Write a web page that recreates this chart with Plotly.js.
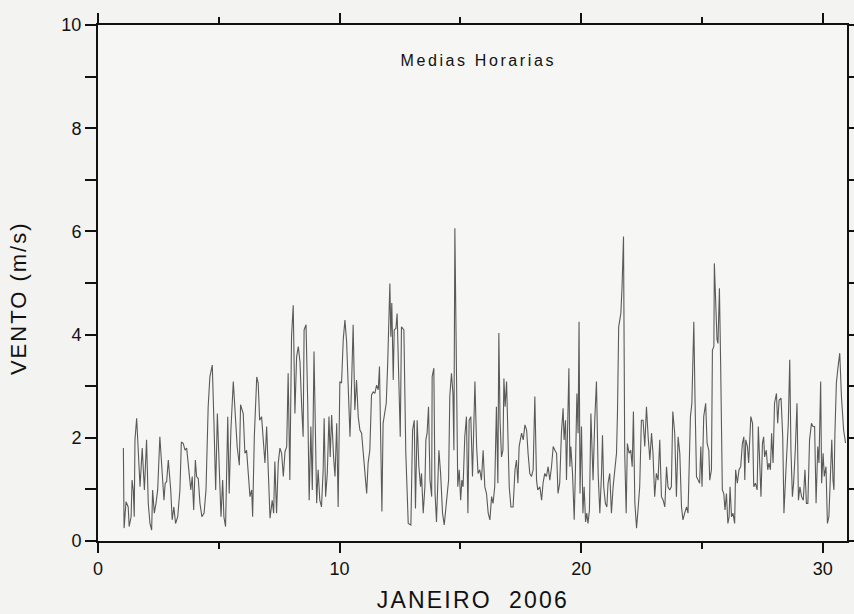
<!DOCTYPE html>
<html>
<head>
<meta charset="utf-8">
<script src="https://cdn.plot.ly/plotly-3.0.1.min.js"></script>
<style>
html,body{margin:0;padding:0;background:#f3f3f1;}
#chart{width:854px;height:614px;}
</style>
</head>
<body>
<div id="chart"></div>
<script>
// Dia de janeiro 2006 (fracao do dia)
var dias = [
1.05,1.08,1.16,1.25,1.29,1.37,1.41,1.46,1.50,1.53,1.60,1.67,1.74,1.83,1.92,2.01,2.08,2.15,2.22,2.26,
2.33,2.40,2.47,2.56,2.66,2.73,2.78,2.84,2.91,3.01,3.07,3.14,3.21,3.30,3.39,3.45,3.53,3.60,3.67,3.75,
3.84,3.90,3.96,4.03,4.08,4.15,4.22,4.30,4.39,4.47,4.56,4.63,4.73,4.80,4.87,4.94,5.02,5.09,5.16,5.21,
5.28,5.37,5.43,5.50,5.60,5.67,5.76,5.85,5.90,6.01,6.08,6.15,6.22,6.29,6.36,6.40,6.47,6.57,6.63,6.69,
6.77,6.84,6.91,6.98,7.05,7.12,7.21,7.27,7.32,7.39,7.46,7.53,7.60,7.67,7.74,7.81,7.87,7.94,8.01,8.08,
8.15,8.22,8.29,8.36,8.43,8.49,8.53,8.61,8.68,8.74,8.81,8.87,8.94,9.01,9.05,9.11,9.18,9.25,9.32,9.36,
9.42,9.49,9.56,9.61,9.67,9.75,9.81,9.88,9.94,10.01,10.08,10.15,10.22,10.29,10.36,10.43,10.50,10.56,10.63,10.70,
10.77,10.84,10.91,10.98,11.05,11.12,11.18,11.25,11.32,11.39,11.46,11.53,11.60,11.65,11.71,11.75,11.80,11.87,11.93,11.99,
12.03,12.08,12.12,12.16,12.22,12.26,12.33,12.38,12.45,12.51,12.56,12.66,12.74,12.84,12.95,13.02,13.09,13.14,13.21,13.28,
13.35,13.39,13.46,13.53,13.57,13.62,13.68,13.74,13.81,13.83,13.90,13.95,14.01,14.11,14.18,14.26,14.33,14.43,14.51,14.56,
14.63,14.69,14.73,14.77,14.84,14.89,14.95,15.01,15.06,15.11,15.18,15.25,15.31,15.36,15.43,15.50,15.56,15.60,15.67,15.73,
15.80,15.87,15.94,16.01,16.08,16.15,16.22,16.29,16.35,16.42,16.49,16.55,16.59,16.64,16.70,16.76,16.80,16.85,16.91,16.96,
17.02,17.09,17.18,17.26,17.32,17.38,17.43,17.53,17.60,17.67,17.74,17.80,17.87,17.94,18.01,18.08,18.15,18.20,18.29,18.36,
18.42,18.49,18.56,18.63,18.70,18.77,18.84,18.91,18.98,19.04,19.11,19.18,19.25,19.29,19.35,19.39,19.43,19.49,19.53,19.57,
19.64,19.71,19.76,19.82,19.87,19.91,19.95,20.01,20.07,20.12,20.18,20.23,20.28,20.34,20.40,20.44,20.49,20.56,20.63,20.70,
20.77,20.84,20.88,20.93,21.00,21.06,21.11,21.18,21.25,21.32,21.39,21.46,21.50,21.55,21.64,21.69,21.75,21.80,21.86,21.91,
21.98,22.05,22.11,22.16,22.22,22.29,22.35,22.42,22.49,22.56,22.63,22.70,22.77,22.84,22.91,22.97,23.04,23.11,23.18,23.25,
23.32,23.39,23.46,23.53,23.59,23.66,23.73,23.79,23.87,23.94,24.01,24.08,24.15,24.21,24.28,24.36,24.42,24.47,24.52,24.58,
24.66,24.71,24.77,24.84,24.90,24.95,25.00,25.07,25.15,25.21,25.28,25.32,25.39,25.43,25.49,25.51,25.57,25.62,25.66,25.72,
25.77,25.84,25.90,25.95,26.01,26.07,26.12,26.16,26.22,26.28,26.35,26.39,26.46,26.53,26.60,26.67,26.73,26.77,26.81,26.88,
26.93,27.02,27.09,27.14,27.21,27.28,27.33,27.39,27.44,27.50,27.55,27.59,27.66,27.72,27.77,27.83,27.88,27.94,28.00,28.08,
28.13,28.19,28.27,28.34,28.39,28.46,28.52,28.57,28.63,28.68,28.74,28.79,28.86,28.93,28.99,29.05,29.12,29.19,29.26,29.32,
29.38,29.45,29.53,29.59,29.66,29.72,29.79,29.84,29.91,29.95,30.01,30.06,30.13,30.19,30.25,30.31,30.37,30.42,30.46,30.50,
30.56,30.63,30.70,30.77,30.86,30.94
];
// Velocidade do vento, media horaria (m/s)
var vento = [
1.80,0.25,0.76,0.66,0.28,0.47,1.18,0.99,0.47,1.96,2.38,1.76,1.05,1.80,0.99,1.96,0.73,0.34,0.21,0.99,
0.54,0.73,0.99,2.02,1.38,0.79,1.12,1.15,1.57,0.99,0.41,0.66,0.34,0.47,0.99,1.92,1.89,1.76,1.80,1.38,
0.99,1.25,0.60,1.57,1.25,1.21,0.73,0.47,0.54,0.99,2.60,3.18,3.41,2.28,0.99,2.47,1.25,0.47,1.18,0.47,
0.28,2.41,0.92,2.15,3.09,2.41,1.83,1.47,2.64,2.47,1.70,1.76,1.25,0.86,0.99,0.47,2.02,3.18,3.06,2.34,
2.41,1.96,1.51,2.22,1.25,0.44,0.79,0.54,1.54,0.54,1.51,1.80,1.70,1.25,1.73,1.83,3.25,1.18,3.96,4.57,
2.47,3.57,3.77,3.47,2.60,2.02,4.09,4.19,2.67,0.79,2.22,0.99,3.67,2.09,0.73,1.38,0.79,0.66,1.38,2.38,
0.86,1.31,2.41,1.63,2.44,1.63,1.25,2.28,0.66,3.09,3.06,3.90,4.28,3.86,3.06,2.02,3.12,4.19,2.54,3.12,
2.41,2.15,2.09,1.63,1.31,0.92,1.51,1.76,2.83,2.89,2.86,3.02,2.93,3.38,1.38,0.57,2.28,2.54,2.67,3.44,
4.48,4.99,3.96,4.61,3.12,4.09,4.12,4.41,3.12,2.02,4.15,4.09,1.70,0.34,0.31,2.15,2.34,0.63,2.34,1.44,
1.05,1.31,0.54,1.05,1.96,2.09,2.60,1.18,0.86,3.18,3.35,0.92,0.37,1.76,1.31,0.54,0.31,0.86,1.18,2.80,
3.25,2.86,1.76,6.06,3.64,1.05,1.38,0.79,1.18,1.05,2.02,2.41,0.54,2.34,2.41,1.25,2.34,3.09,1.83,1.31,
1.38,1.18,1.76,1.05,0.92,0.54,0.41,0.86,0.73,1.05,2.60,1.12,4.03,2.34,1.63,1.76,3.15,2.60,3.09,1.83,
1.05,0.66,0.66,1.38,1.57,1.12,1.83,2.09,1.96,2.25,2.15,1.70,1.31,1.25,1.38,2.80,1.18,0.99,1.05,0.79,
1.12,1.31,1.25,1.44,1.18,1.44,1.83,1.76,1.70,0.92,1.12,2.09,2.57,1.96,2.34,1.18,2.34,3.35,1.44,1.83,
1.31,0.41,1.38,2.86,2.09,4.25,0.92,2.22,0.54,1.05,0.37,0.54,0.34,0.60,2.47,1.70,1.18,2.34,3.09,1.31,
0.54,1.31,2.05,1.05,0.73,0.66,1.12,1.31,0.54,1.05,1.38,1.70,2.47,4.15,4.41,4.93,5.90,1.70,0.54,1.89,
1.70,1.76,1.44,2.51,0.73,0.25,0.60,1.05,2.34,2.34,1.83,2.60,2.02,1.57,2.09,1.70,0.86,1.31,1.18,1.96,
0.86,0.79,0.66,1.44,1.05,0.99,1.05,2.51,2.09,0.86,2.02,1.70,0.66,0.41,0.54,0.66,0.54,1.31,2.41,2.67,
4.25,2.73,1.25,1.18,1.12,1.83,1.05,2.41,2.67,1.89,1.76,1.18,1.38,3.70,3.77,5.38,4.48,3.90,3.83,4.90,
3.44,0.99,0.92,0.60,0.92,0.34,0.47,1.05,0.47,0.54,0.34,1.38,1.12,1.38,1.44,1.89,2.02,1.18,1.96,1.83,
1.51,2.41,2.28,1.05,1.12,0.99,2.22,1.25,0.86,1.89,2.02,1.63,1.76,1.38,1.51,1.38,2.09,1.51,2.67,2.86,
2.28,2.73,2.77,2.02,0.54,1.25,1.70,2.28,3.51,1.76,0.86,1.12,1.76,2.67,0.79,1.05,0.86,0.79,1.38,0.73,
0.73,1.96,2.28,2.22,2.22,0.73,1.83,1.51,3.09,1.12,1.70,1.25,1.44,0.34,0.47,1.38,1.96,1.18,0.99,2.09,
3.06,3.38,3.64,2.80,2.15,1.90
];
var xTickVals = [0, 10, 20, 30];
var xTickText = ['0', '10', '20', '30'];
var yTickVals = [0, 2, 4, 6, 8, 10];
var yTickText = ['0', '2', '4', '6', '8', '10'];

var trace = {
  x: dias, y: vento, type: 'scatter', mode: 'lines',
  line: {color: '#5a5a5a', width: 1.1},
  hoverinfo: 'skip'
};
var font = 'Liberation Sans, Arial, Helvetica, sans-serif';
var layout = {
  width: 854, height: 614,
  margin: {l: 98, r: 7, t: 25, b: 73},
  paper_bgcolor: '#f3f3f1', plot_bgcolor: '#f6f6f4',
  showlegend: false,
  font: {family: font, color: '#111', size: 18},
  xaxis: {
    range: [0, 31], tickmode: 'array', tickvals: xTickVals, ticktext: xTickText,
    ticks: 'outside', ticklen: 10, tickwidth: 2, tickcolor: '#111',
    showline: true, linewidth: 2, linecolor: '#111', mirror: 'ticks',
    showgrid: false, zeroline: false,
    minor: {dtick: 5, tick0: 0, ticks: 'outside', ticklen: 6, tickwidth: 2, tickcolor: '#111', showgrid: false},
    tickfont: {size: 18, family: font, color: '#111'}
  },
  yaxis: {
    range: [0, 10], tickmode: 'array', tickvals: yTickVals, ticktext: yTickText,
    ticks: 'outside', ticklen: 11, tickwidth: 2, tickcolor: '#111',
    showline: true, linewidth: 2, linecolor: '#111', mirror: 'ticks',
    showgrid: false, zeroline: false,
    minor: {dtick: 1, tick0: 0, ticks: 'outside', ticklen: 11, tickwidth: 2, tickcolor: '#111', showgrid: false},
    tickfont: {size: 18, family: font, color: '#111'}
  },
  annotations: [
    {text: 'Medias Horarias', xref: 'paper', yref: 'paper', x: 0.507, y: 0.932,
     xanchor: 'center', yanchor: 'middle', showarrow: false, font: {size: 16, family: font, color: '#111'}},
    {text: 'VENTO (m/s)', xref: 'paper', yref: 'paper', x: -0.106, y: 0.47, textangle: -90,
     xanchor: 'center', yanchor: 'middle', showarrow: false, font: {size: 22, family: font, color: '#111'}},
    {text: 'JANEIRO  2006', xref: 'paper', yref: 'paper', x: 0.5, y: -0.114,
     xanchor: 'center', yanchor: 'middle', showarrow: false, font: {size: 23, family: font, color: '#111'}}
  ]
};
Plotly.newPlot('chart', [trace], layout, {staticPlot: true, displayModeBar: false}).then(function () {
  var spacing = ['2.6px', '2px', '2.2px'];
  var nodes = document.querySelectorAll('.annotation-text');
  for (var i = 0; i < nodes.length && i < spacing.length; i++) {
    nodes[i].style.letterSpacing = spacing[i];
  }
});
</script>
</body>
</html>
